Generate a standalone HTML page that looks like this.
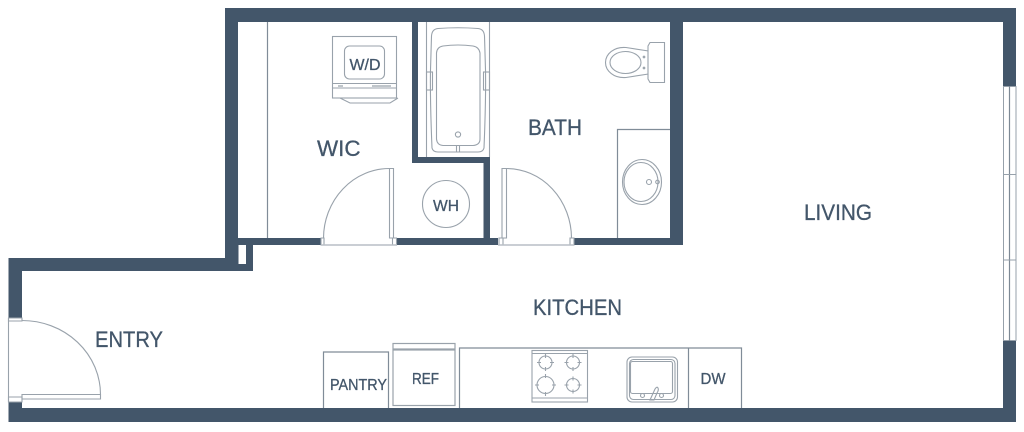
<!DOCTYPE html>
<html><head><meta charset="utf-8"><style>
html,body{margin:0;padding:0;background:#fff;width:1024px;height:432px;overflow:hidden}
svg{display:block}
text{font-family:"Liberation Sans",sans-serif;fill:#43566a;stroke:#43566a;stroke-width:.3}
.l{fill:none;stroke:#99a2ab;stroke-width:1.100}
.d{fill:none;stroke:#808c98;stroke-width:1.200}
</style></head><body>
<svg width="1024" height="432" viewBox="0 0 1024 432" xmlns="http://www.w3.org/2000/svg">
<g fill="#43566a">
<rect x="225" y="8" width="791" height="14"/>
<rect x="225" y="8" width="13" height="263"/>
<rect x="1003" y="8" width="13" height="78"/>
<rect x="1003" y="341" width="13" height="81"/>
<rect x="8.5" y="408" width="1007.5" height="14"/>
<rect x="8.5" y="402" width="13.5" height="20"/>
<rect x="8.5" y="258" width="13.5" height="60"/>
<rect x="8.5" y="258" width="229" height="13"/>
<rect x="238" y="238" width="15" height="33"/>
<rect x="238" y="238" width="83" height="7"/>
<rect x="397" y="238" width="101" height="7"/>
<rect x="412" y="22" width="6" height="141"/>
<rect x="412" y="157" width="78" height="6"/>
<rect x="483.500" y="157" width="6.500" height="88"/>
<rect x="574" y="238" width="109" height="7"/>
<rect x="670" y="22" width="13" height="223"/>
</g>
<rect x="238.500" y="245" width="7.500" height="19" fill="#fff"/>

<!-- WIC -->
<path class="d" d="M267.500 22V238"/>
<g class="l">
<rect x="332.500" y="36.500" width="64" height="61.500"/>
<rect x="344.500" y="46" width="40" height="33" rx="5"/>
<path d="M332.500 83.500H396.500M332.500 88H396.500M340 98l10 5h40l8-5"/>
<path d="M338 86h5M372 86h19" stroke-width="1.200"/>
</g>
<text x="349.500" y="70" font-size="16" textLength="31" lengthAdjust="spacingAndGlyphs">W/D</text>
<text x="317" y="156" font-size="22" textLength="43.500" lengthAdjust="spacingAndGlyphs">WIC</text>

<!-- Tub -->
<g class="l">
<path d="M426.500 22V157M489.500 22V157"/>
<path d="M438 28.500Q458 27 478 28.500Q484 29 484.500 36L485.500 70Q486 100 484 148Q483 152 478 152H438Q433 152 432 148Q430 100 430.500 70L431.500 36Q432 29 438 28.500Z"/>
<path d="M443 46Q458 44 473 46Q479 47 480 53V139Q480 145 473 145.500H443Q437 145 436.500 139V53Q437 47 443 46Z"/>
<rect x="426.500" y="72" width="6" height="18"/>
<rect x="483.500" y="72" width="6" height="18"/>
<circle cx="458" cy="134.500" r="2.600"/>
<path d="M456.500 145.500V152M459.500 145.500V152"/>
</g>

<!-- Doors -->
<g class="l">
<path d="M389.500 168.500H393.500V238H389.500Z"/>
<path d="M389.500 168.500A66 70 0 0 0 323.500 238"/>
<path d="M321 238H324V245H321ZM392.500 238H396.500V245H392.500Z"/>
<path d="M321 245H397" stroke="#b8bec5" stroke-width="1.500"/>
<path d="M502 168.500H506.500V238H502Z"/>
<path d="M506.500 168.500A65 70 0 0 1 571.500 238"/>
<path d="M499 238H503V245H499ZM570 238H574V245H570Z"/>
<path d="M498 245H574" stroke="#b8bec5" stroke-width="1.500"/>
<path d="M8.500 318V402"/>
<path d="M8.500 318H22V321H8.500ZM8.500 397H22V402H8.500Z"/>
<path d="M22 394.500H100.500V399H22Z"/>
<path d="M22 320.500A78.500 74 0 0 1 100.500 394.500"/>
</g>

<!-- Bath -->
<g class="l">
<path d="M650 42.500H664.500V82.500H650L648 79V46Z"/>
<path d="M648.500 51L626 47.500C614 46.500 605.500 54 605.500 62.500C605.500 71 614 78.500 626 77.500L648.500 74"/>
<ellipse cx="625.500" cy="62.500" rx="15.500" ry="11"/>
<circle cx="644" cy="57" r=".8"/><circle cx="644" cy="68" r=".8"/>
</g>
<path class="d" d="M617.500 238V129.500H670"/>
<g class="l">
<ellipse cx="642" cy="182" rx="19.500" ry="22.500"/>
<ellipse cx="641" cy="182" rx="17" ry="19.500"/>
<circle cx="649" cy="182" r="2.500"/><circle cx="657.500" cy="182" r="1.800"/>
</g>
<text x="528" y="135" font-size="22" textLength="54" lengthAdjust="spacingAndGlyphs">BATH</text>

<!-- WH -->
<circle class="l" cx="446" cy="204" r="23.500"/>
<text x="433" y="211" font-size="16" textLength="26" lengthAdjust="spacingAndGlyphs">WH</text>

<!-- Window -->
<g>
<rect x="1003.500" y="86.500" width="12.500" height="254" fill="#fff" stroke="#97a1ab"/>
<path d="M1009.500 86V341" stroke="#7d8995" stroke-width="1.200" fill="none"/>
<path d="M1003 174.500H1016M1003 260H1016" stroke="#97a1ab" fill="none"/>
</g>

<text x="804" y="220" font-size="22" textLength="68" lengthAdjust="spacingAndGlyphs">LIVING</text>
<text x="533" y="315" font-size="22" textLength="89" lengthAdjust="spacingAndGlyphs">KITCHEN</text>
<text x="95" y="347" font-size="22" textLength="68" lengthAdjust="spacingAndGlyphs">ENTRY</text>

<!-- Kitchen -->
<g class="d">
<path d="M323.500 408V352H388.500V408"/>
<rect x="393" y="350" width="62" height="55.500" stroke="#99a2ab"/>
<rect x="393" y="343.500" width="62" height="5.500" stroke="#99a2ab"/>
<path d="M459.500 408V348H741.500V408M688.500 348V408"/>
</g>
<text x="330" y="390" font-size="16" textLength="57" lengthAdjust="spacingAndGlyphs">PANTRY</text>
<text x="412" y="384" font-size="16" textLength="27" lengthAdjust="spacingAndGlyphs">REF</text>
<text x="700.500" y="384" font-size="16" textLength="25" lengthAdjust="spacingAndGlyphs">DW</text>
<g class="l">
<rect x="532" y="350.500" width="55.500" height="51.500"/>
<path d="M532 353.500H587.500M532 398H587.500"/>
<circle cx="545.500" cy="362.500" r="6.500"/>
<circle cx="573" cy="362.500" r="6.500"/>
<circle cx="545.500" cy="385" r="8.500"/>
<circle cx="573" cy="385" r="6.500"/>
<path d="M545.500 354V358M545.500 367V371M537 362.500H541M550 362.500H554M573 354V358M573 367V371M564.500 362.500H568.500M577.500 362.500H581.500M545.500 374V378M545.500 392V396M535 385H539M552 385H556M573 376.500V380.500M573 389.500V393.500M564.500 385H568.500M577.500 385H581.500"/>
<rect x="627" y="357" width="50.500" height="45" rx="5"/>
<rect x="629.500" y="359.500" width="45.500" height="40" rx="4"/>
<rect x="630.500" y="361.500" width="42" height="32" rx="2"/>
<circle cx="642.500" cy="395.500" r="2"/>
<circle cx="661.500" cy="395.500" r="2"/>
<path d="M650 400L655 389Q657 386 658 388Q659 390 657 393L654 400Z"/>
</g>
</svg>
</body></html>
